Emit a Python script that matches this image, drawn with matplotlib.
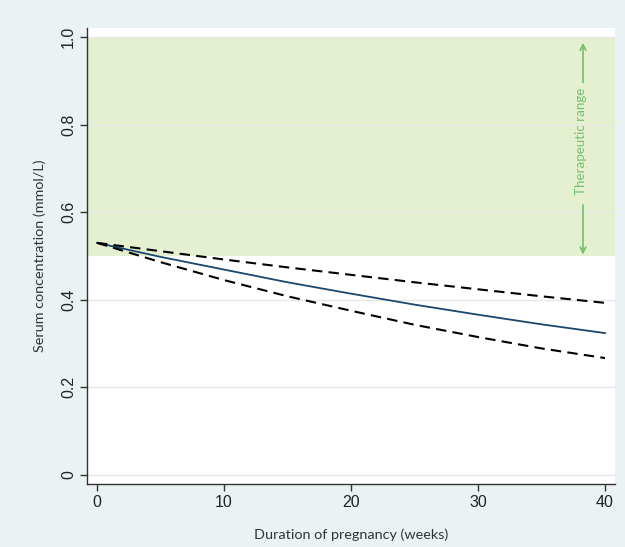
import numpy as np
import matplotlib.pyplot as plt

# values
weeks = [0, 5, 10, 15, 20, 25, 30, 35, 40]
serum_mean = [0.530, 0.498, 0.469, 0.440, 0.414, 0.389, 0.366, 0.344, 0.324]
serum_upper = [0.530, 0.511, 0.492, 0.474, 0.457, 0.440, 0.424, 0.408, 0.393]
serum_lower = [0.530, 0.486, 0.445, 0.408, 0.375, 0.343, 0.315, 0.289, 0.267]

therapeutic_low = 0.5
therapeutic_high = 1.0
x_ticks = [0, 10, 20, 30, 40]
y_ticks = [0, 0.2, 0.4, 0.6, 0.8, 1.0]
y_tick_labels = ['0', '0.2', '0.4', '0.6', '0.8', '1.0']

BG = '#eaf2f3'
GREEN_FILL = '#e4f0d0'
GREEN_TEXT = '#73bf6c'
NAVY = '#1a476f'


def main() -> None:
    fig = plt.figure(figsize=(6.25, 5.47), dpi=100, facecolor=BG)
    ax = fig.add_axes([0.1392, 0.1152, 0.8448, 0.8336])
    ax.set_facecolor('white')

    ax.set_xlim(-0.79, 40.79)
    ax.set_ylim(-0.0205, 1.0205)

    ax.axhspan(therapeutic_low, therapeutic_high, color=GREEN_FILL, lw=0, zorder=0)
    for y in y_ticks:
        ax.axhline(y, color='#e6e8e8', lw=1, zorder=0.5)

    ax.plot(weeks, serum_upper, color='k', lw=1.5, dashes=(5, 3), zorder=3)
    ax.plot(weeks, serum_lower, color='k', lw=1.5, dashes=(5, 3), zorder=3)
    ax.plot(weeks, serum_mean, color=NAVY, lw=1.3, zorder=2)

    # therapeutic range annotation
    xa = 38.27
    ax.annotate('', xy=(xa, 0.993), xytext=(xa, 0.89),
                arrowprops=dict(arrowstyle='->', color=GREEN_TEXT, lw=1.2))
    ax.annotate('', xy=(xa, 0.497), xytext=(xa, 0.623),
                arrowprops=dict(arrowstyle='->', color=GREEN_TEXT, lw=1.2))
    ax.text(xa - 0.15, 0.762, 'Therapeutic range', rotation=90, ha='center', va='center',
            color=GREEN_TEXT, fontsize=9.6, family='Lato')

    for side in ['top', 'right']:
        ax.spines[side].set_visible(False)
    for side in ['left', 'bottom']:
        ax.spines[side].set_color('#333333')
        ax.spines[side].set_linewidth(1.0)

    ax.set_xticks(x_ticks)
    ax.set_xticklabels([str(t) for t in x_ticks], family='Liberation Sans', fontsize=11.5)
    ax.set_yticks(y_ticks)
    ax.set_yticklabels(y_tick_labels, family='Liberation Sans', fontsize=11.5,
                       rotation=90, va='center')
    ax.tick_params(axis='both', direction='out', length=5, width=1.0,
                   color='#333333', labelcolor='#222222')
    ax.tick_params(axis='x', pad=3)
    ax.tick_params(axis='y', pad=3)

    ax.set_xlabel('Duration of pregnancy (weeks)', family='Lato', fontsize=10.4,
                  color='#333333', labelpad=13)
    ax.set_ylabel('Serum concentration (mmol/L)', family='Lato', fontsize=10.4,
                  color='#333333', labelpad=11)

    fig.savefig('out.png', dpi=100, facecolor=BG)


if __name__ == '__main__':
    main()
